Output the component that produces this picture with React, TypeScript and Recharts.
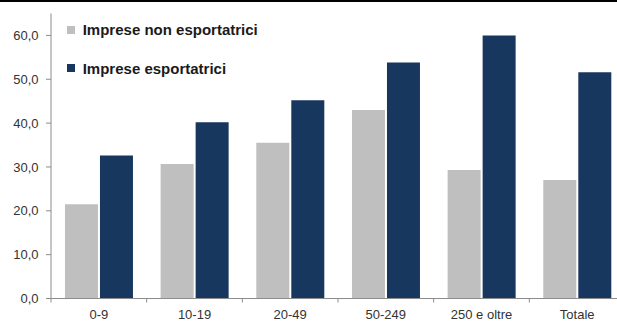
import React from 'react';
import { BarChart, Bar, XAxis, YAxis } from 'recharts';

const categories = ['0-9', '10-19', '20-49', '50-249', '250 e oltre', 'Totale'];
const nonEsportatrici = [21.5, 30.7, 35.5, 43.0, 29.3, 27.0];
const esportatrici = [32.6, 40.2, 45.2, 53.8, 60.0, 51.6];
const yTicks = [0, 10, 20, 30, 40, 50, 60];
const seriesNames = ['Imprese non esportatrici', 'Imprese esportatrici'];
const seriesColors = ['#BFBFBF', '#17375E'];

const data = categories.map((c, i) => ({
  name: c,
  non: nonEsportatrici[i],
  exp: esportatrici[i],
}));

const FONT = '"Liberation Sans", Arial, sans-serif';
const AXIS = '#8c8c8c';
const TEXT = '#333333';

const fmt = (v: number) => v.toFixed(1).replace('.', ',');

const XTick = (props: any) => {
  const { x, y, payload } = props;
  const off = payload.offset || 0;
  return (
    <g>
      <line x1={x - off} x2={x - off} y1={y} y2={y + 4} stroke={AXIS} strokeWidth={1} />
      <text x={x} y={y + 20.5} textAnchor="middle" fill={TEXT} fontSize={13} fontFamily={FONT}>
        {payload.value}
      </text>
    </g>
  );
};

export default function App() {
  return (
    <div
      style={{
        position: 'absolute',
        left: 0,
        top: 0,
        width: 617,
        height: 322,
        overflow: 'hidden',
        background: '#ffffff',
        fontFamily: FONT,
      }}
    >
      <BarChart
        width={625}
        height={322}
        data={data}
        margin={{ top: 13.5, right: 0, bottom: 0, left: 0 }}
        barCategoryGap="14.6%"
        barGap={2}
      >
        <YAxis
          width={51}
          domain={[0, 65]}
          ticks={yTicks}
          tickFormatter={fmt}
          tickSize={5}
          tickMargin={7.5}
          axisLine={{ stroke: AXIS }}
          tickLine={{ stroke: AXIS }}
          tick={{ fill: TEXT, fontSize: 13, fontFamily: FONT }}
          allowDataOverflow
        />
        <XAxis
          dataKey="name"
          height={23.5}
          tickSize={0}
          tickMargin={0}
          tickLine={false}
          axisLine={{ stroke: AXIS }}
          interval={0}
          tick={<XTick />}
        />
        <Bar dataKey="non" name={seriesNames[0]} fill={seriesColors[0]} isAnimationActive={false} />
        <Bar dataKey="exp" name={seriesNames[1]} fill={seriesColors[1]} isAnimationActive={false} />
      </BarChart>
      <div style={{ position: 'absolute', left: 0, top: 0, width: 617, height: 2, background: '#000' }} />
      {seriesNames.map((n, i) => (
        <div
          key={n}
          style={{
            position: 'absolute',
            left: 67,
            top: 22.3 + i * 38.4,
            height: 15,
            lineHeight: '15px',
            fontSize: 15,
            fontWeight: 'bold',
            color: '#1a1a1a',
            whiteSpace: 'nowrap',
            display: 'flex',
            alignItems: 'center',
          }}
        >
          <span
            style={{
              display: 'inline-block',
              width: 8,
              height: 8,
              background: seriesColors[i],
              marginRight: 7.7,
            }}
          />
          <span>{n}</span>
        </div>
      ))}
    </div>
  );
}
